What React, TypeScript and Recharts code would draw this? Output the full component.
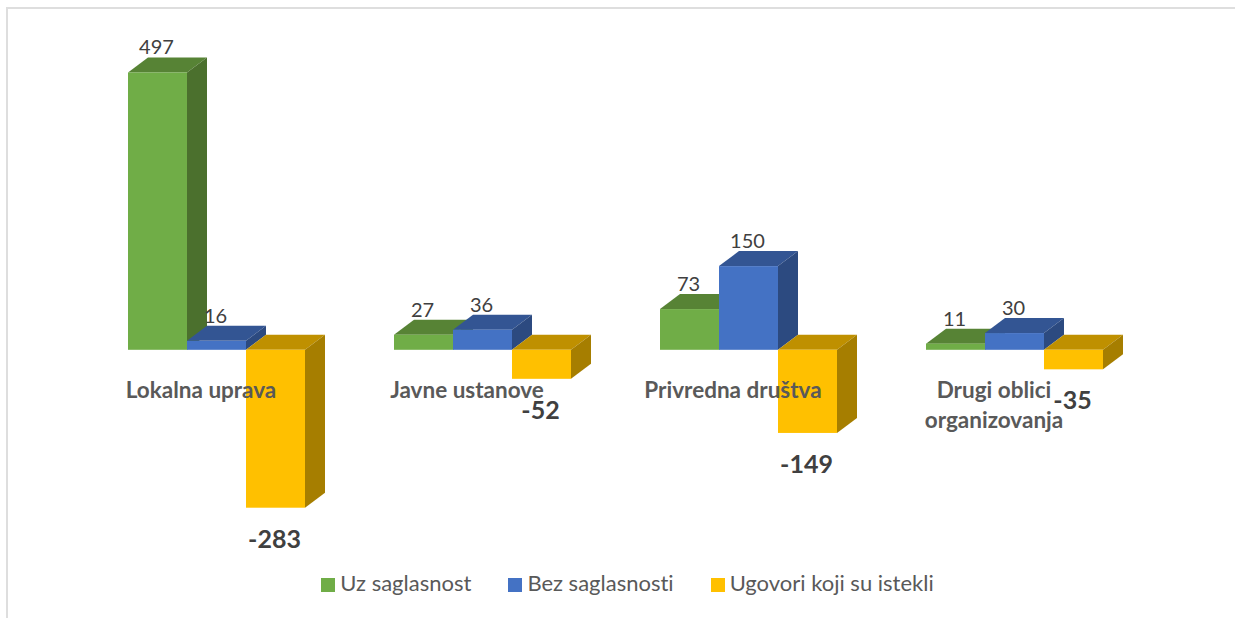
import { BarChart, Bar, XAxis, YAxis, Legend, LabelList } from "recharts";

const categories = ["Lokalna uprava", "Javne ustanove", "Privredna društva", "Drugi oblici organizovanja"];
const uzSaglasnost = [497, 27, 73, 11];
const bezSaglasnosti = [16, 36, 150, 30];
const istekli = [-283, -52, -149, -35];

const data = categories.map((name, i) => ({
  name,
  uz: uzSaglasnost[i],
  bez: bezSaglasnosti[i],
  ist: istekli[i],
}));

const DX = 20;
const DY = 15;
const FONT = "Lato, 'Open Sans', sans-serif";

// 3D look: front face, top face and side face
function Box3D(props: any) {
  const { x, y, width, height, fill, topFill, sideFill } = props;
  const top = Math.min(y, y + height);
  const h = Math.abs(height);
  return (
    <g>
      <polygon
        points={`${x},${top} ${x + DX},${top - DY} ${x + width + DX},${top - DY} ${x + width},${top}`}
        fill={topFill}
      />
      <polygon
        points={`${x + width},${top} ${x + width + DX},${top - DY} ${x + width + DX},${top + h - DY} ${x + width},${top + h}`}
        fill={sideFill}
      />
      <rect x={x} y={top} width={width} height={h} fill={fill} />
    </g>
  );
}

function PosLabel(props: any) {
  const { x, y, width, value } = props;
  return (
    <text x={x + width / 2 - 1} y={y - 26} textAnchor="middle" dominantBaseline="central" fontSize={20} fill="#404040" fontFamily={FONT}>
      {value}
    </text>
  );
}

function NegLabel(props: any) {
  const { x, y, width, height, value } = props;
  const bottom = Math.max(y, y + height);
  return (
    <text x={x + width / 2 - 1} y={bottom + 30} textAnchor="middle" dominantBaseline="central" fontSize={25} fontWeight={700} fill="#404040" fontFamily={FONT}>
      {value}
    </text>
  );
}

function CategoryTick(props: any) {
  const { x, payload } = props;
  const value: string = payload.value;
  const isLast = value === categories[3];
  const lines = isLast ? ["Drugi oblici", "organizovanja"] : [value];
  return (
    <text textAnchor="middle" fontSize={22.5} fontWeight={700} fill="#595959" fontFamily={FONT} style={{ fontVariantLigatures: "none" }}>
      {lines.map((line, i) => (
        <tspan key={line} x={x - (isLast ? 21 : 16)} y={398 + i * 30}>
          {line}
        </tspan>
      ))}
    </text>
  );
}

export default function App() {
  return (
    <div style={{ position: "absolute", left: 0, top: 0, width: 1235, height: 618 }}>
      <div style={{ position: "absolute", left: 6, top: 7, width: 1229, height: 611, borderLeft: "2px solid #dedede", borderTop: "2px solid #dedede", boxSizing: "border-box" }} />
      <BarChart
        width={1235}
        height={618}
        data={data}
        margin={{ top: 15, right: 87, bottom: 2, left: 84 }}
        barCategoryGap={44}
        barGap={0}
        style={{ position: "absolute", left: 0, top: 0 }}
      >
        <YAxis domain={[-400, 600]} hide />
        <Legend
          verticalAlign="bottom"
          iconType="square"
          iconSize={14}
          itemSorter={null}
          wrapperStyle={{ fontFamily: FONT, fontSize: 22, color: "#595959", bottom: 22, left: 114, fontVariantLigatures: "none" }}
          formatter={(v) => <span style={{ color: "#595959", marginLeft: 1, marginRight: 27 }}>{v}</span>}
        />
        <Bar dataKey="uz" name="Uz saglasnost" fill="#70ad47" isAnimationActive={false} shape={<Box3D topFill="#578335" sideFill="#4b702d" />}>
          <LabelList dataKey="uz" content={<PosLabel />} />
        </Bar>
        <Bar dataKey="bez" name="Bez saglasnosti" fill="#4472c4" isAnimationActive={false} shape={<Box3D topFill="#335593" sideFill="#2c4a80" />}>
          <LabelList dataKey="bez" content={<PosLabel />} />
        </Bar>
        <Bar dataKey="ist" name="Ugovori koji su istekli" fill="#ffc000" isAnimationActive={false} shape={<Box3D topFill="#bf9000" sideFill="#a67e00" />}>
          <LabelList dataKey="ist" content={<NegLabel />} />
        </Bar>
        <XAxis dataKey="name" axisLine={false} tickLine={false} tick={<CategoryTick />} interval={0} height={16} />
      </BarChart>
    </div>
  );
}
